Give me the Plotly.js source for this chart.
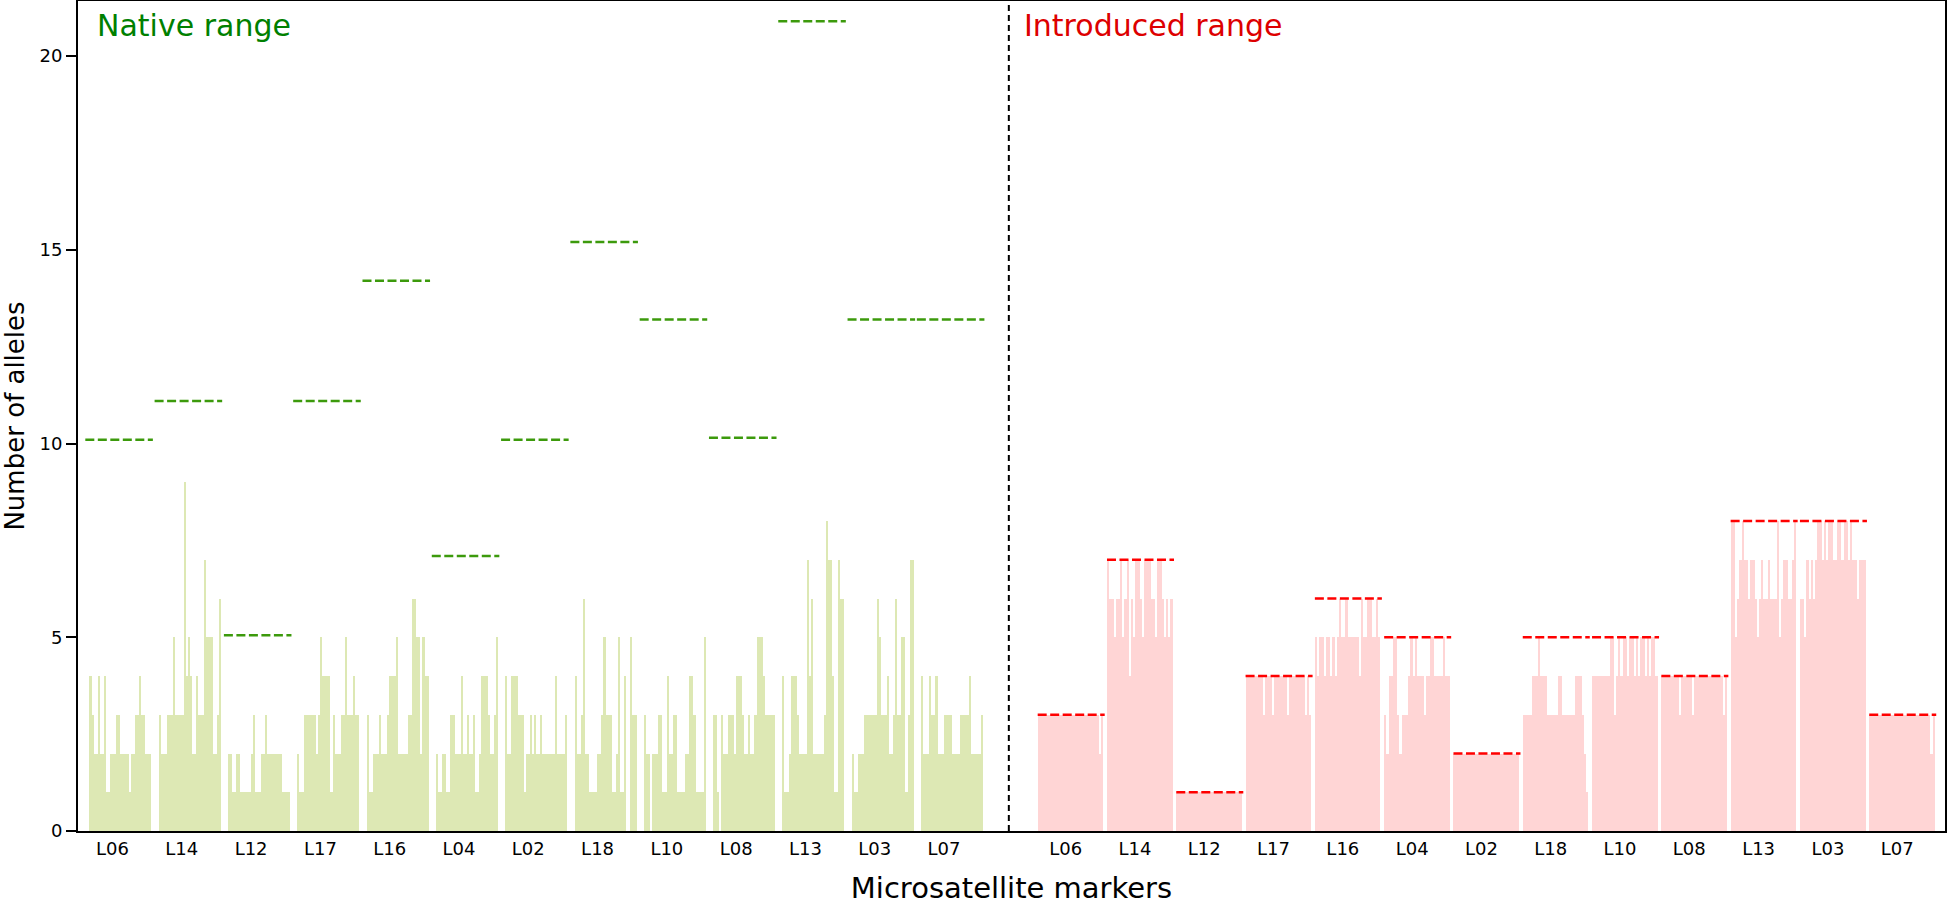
<!DOCTYPE html>
<html><head><meta charset="utf-8">
<script src="https://cdn.plot.ly/plotly-3.0.1.min.js"></script>
<style>html,body{margin:0;padding:0;background:#fff}#chart{width:1947px;height:905px}</style>
</head><body><div id="chart"></div>
<script>
// ---- data ----
const markers = ["L06","L14","L12","L17","L16","L04","L02","L18","L10","L08","L13","L03","L07"];

// Native range: number of alleles per sample, 30 samples per marker
const nativeL06 = [4,3,2,2,4,2,2,4,1,1,2,2,2,3,3,2,2,2,2,1,2,2,3,3,4,3,3,2,2,2];
const nativeL14 = [3,2,2,2,3,3,3,5,3,3,3,3,9,4,5,4,2,2,4,3,3,3,7,5,5,5,2,2,3,6];
const nativeL12 = [2,2,1,1,2,2,1,1,1,1,1,2,3,1,1,1,2,2,3,2,2,2,2,2,2,2,1,1,1,1];
const nativeL17 = [2,1,1,3,3,3,3,3,3,2,3,5,4,4,4,4,1,3,2,2,2,3,3,5,3,3,3,4,3,3];
const nativeL16 = [3,1,1,2,2,2,3,2,2,2,3,4,4,4,5,2,2,2,2,2,3,3,6,6,5,5,2,5,4,4];
const nativeL04 = [2,1,1,2,2,1,1,3,3,2,2,2,4,2,2,3,2,2,3,1,1,2,4,4,4,3,2,2,3,5];
const nativeL02 = [4,2,2,4,4,4,3,3,3,1,2,2,3,2,3,2,2,3,2,2,2,2,2,2,4,2,2,2,2,3];
const nativeL18 = [4,2,2,3,6,2,2,1,1,1,1,2,2,3,5,3,3,3,1,1,2,5,1,1,4,0,0,5,3,3];
const nativeL10 = [3,2,2,0,2,2,2,3,3,1,1,4,2,2,3,3,1,1,1,1,2,2,4,4,3,1,1,1,1,5];
const nativeL08 = [3,3,1,0,3,2,2,3,3,3,2,4,4,4,3,2,2,3,2,2,3,5,5,5,4,3,3,3,3,3];
const nativeL13 = [4,1,1,2,4,4,4,3,2,2,2,2,7,4,6,2,2,2,2,2,3,8,7,7,4,1,1,7,6,6];
const nativeL03 = [2,1,1,2,2,2,3,3,3,3,3,3,6,5,3,3,3,4,2,2,3,6,3,3,5,5,1,3,7,7];
const nativeL07 = [4,2,2,2,4,3,3,4,2,2,2,3,3,3,3,2,2,2,2,3,3,3,3,4,2,2,2,2,2,3];

// Introduced range: number of alleles per sample, 30 samples per marker
const introL06 = [3,3,3,3,3,3,3,3,3,3,3,3,3,3,3,3,3,3,3,3,3,3,3,3,3,3,3,3,2,3];
const introL14 = [7,6,6,5,6,6,7,5,6,7,4,6,5,7,7,6,5,7,7,7,6,6,5,7,7,6,5,6,5,6];
const introL12 = [1,1,1,1,1,1,1,1,1,1,1,1,1,1,1,1,1,1,1,1,1,1,1,1,1,1,1,1,1,1];
const introL17 = [4,4,4,4,4,4,4,4,3,4,4,4,3,4,4,4,4,4,4,3,4,4,4,4,4,4,4,3,4,3];
const introL16 = [5,4,5,5,4,5,5,4,5,4,5,6,5,5,6,5,5,5,5,5,4,6,5,5,6,6,5,5,6,5];
const introL04 = [3,2,4,4,5,5,3,2,3,3,3,4,5,4,5,4,4,4,3,4,4,5,5,4,4,4,4,5,4,4];
const introL02 = [2,2,2,2,2,2,2,2,2,2,2,2,2,2,2,2,2,2,2,2,2,2,2,2,2,2,2,2,2,2];
const introL18 = [3,3,3,3,4,4,4,5,4,4,4,3,3,3,3,3,4,4,3,3,3,3,3,3,4,4,4,3,2,1];
const introL10 = [4,4,4,4,4,4,4,4,5,5,3,4,5,4,5,5,4,5,5,4,5,4,5,5,4,5,4,5,5,4];
const introL08 = [4,4,4,4,4,4,4,4,3,4,4,4,4,4,3,4,4,4,4,4,4,4,4,4,4,4,4,4,3,4];
const introL13 = [8,8,5,6,7,8,7,7,6,7,7,6,5,6,7,6,6,7,6,6,6,8,5,6,7,7,6,6,7,8];
const introL03 = [6,6,5,7,6,7,6,7,8,8,7,8,7,8,8,7,7,8,8,7,8,8,7,8,7,7,6,7,7,7];
const introL07 = [3,3,3,3,3,3,3,3,3,3,3,3,3,3,3,3,3,3,3,3,3,3,3,3,3,3,3,3,2,3];

// Total number of alleles per marker (dashed lines)
const nativeMax = [10.1,11.1,5.05,11.1,14.2,7.1,10.1,15.2,13.2,10.15,20.9,13.2,13.2];
const introducedMax = [3,7,1,4,6,5,2,5,5,4,8,8,3];

// ---- layout geometry ----
const nativeSets = [nativeL06,nativeL14,nativeL12,nativeL17,nativeL16,nativeL04,nativeL02,nativeL18,nativeL10,nativeL08,nativeL13,nativeL03,nativeL07];
const introSets  = [introL06,introL14,introL12,introL17,introL16,introL04,introL02,introL18,introL10,introL08,introL13,introL03,introL07];
const NAT_OFF = 0, INT_OFF = 13.71;
const NAT_W = 0.895, INT_W = 0.947;

function barsOf(sets, off, gw) {
  const x = [], y = [];
  sets.forEach((vals, i) => {
    const n = vals.length;
    vals.forEach((v, k) => { x.push(off + i + ((k + 0.5) / n - 0.5) * gw); y.push(v); });
  });
  return {x, y, w: gw / sets[0].length};
}
function maxLines(maxes, off, gw, padL, padR) {
  const x = [], y = [];
  maxes.forEach((m, i) => { x.push(off + i - gw/2 - padL, off + i + gw/2 + padR, null); y.push(m, m, null); });
  return {x, y};
}

const nb = barsOf(nativeSets, NAT_OFF, NAT_W);
const ib = barsOf(introSets, INT_OFF, INT_W);
const nl = maxLines(nativeMax, NAT_OFF, NAT_W, 0.06, 0.02);
const il = maxLines(introducedMax, INT_OFF, INT_W, 0.0, 0.02);

const traces = [
  {type:'bar', x:nb.x, y:nb.y, width:nb.w, marker:{color:'#dde8b4', line:{width:0}}, name:'Native range', hoverinfo:'y'},
  {type:'bar', x:ib.x, y:ib.y, width:ib.w, marker:{color:'#ffd5d5', line:{width:0}}, name:'Introduced range', hoverinfo:'y'},
  {type:'scatter', mode:'lines', x:nl.x, y:nl.y, line:{color:'#3c9a0c', width:2.5, dash:'9px,3.5px'}, hoverinfo:'y', connectgaps:false},
  {type:'scatter', mode:'lines', x:il.x, y:il.y, line:{color:'#ff0000', width:2.5, dash:'9px,3.5px'}, hoverinfo:'y', connectgaps:false}
];

const tickvals = [], ticktext = [];
markers.forEach((m, i) => { tickvals.push(NAT_OFF + i - 0.115); ticktext.push(m); });
markers.forEach((m, i) => { tickvals.push(INT_OFF + i - 0.07); ticktext.push(m); });

const layout = {
  width:1947, height:905,
  margin:{l:78, r:2, t:1, b:74},
  paper_bgcolor:'#ffffff', plot_bgcolor:'#ffffff',
  font:{family:'DejaVu Sans, Verdana, sans-serif', color:'#000'},
  showlegend:false,
  bargap:0,
  xaxis:{
    range:[-0.613, 26.33], showgrid:false, zeroline:false,
    showline:true, linecolor:'#000', linewidth:2, mirror:true,
    ticks:'', tickvals:tickvals, ticktext:ticktext, tickfont:{size:18, color:'#000'},
    title:{text:'Microsatellite markers', font:{size:29, color:'#000'}, standoff:26}
  },
  yaxis:{
    range:[0, 21.42], showgrid:false, zeroline:false,
    showline:true, linecolor:'#000', linewidth:2, mirror:true,
    ticks:'outside', ticklen:10, tickwidth:2, tickcolor:'#000',
    tickvals:[0,5,10,15,20], tickfont:{size:18, color:'#000'},
    title:{text:'Number of alleles', font:{size:26, color:'#000'}, standoff:16}
  },
  shapes:[{type:'line', xref:'x', yref:'paper', x0:12.82, x1:12.82, y0:0, y1:1,
           line:{color:'#000', width:2, dash:'6px,4px'}}],
  annotations:[
    {xref:'paper', yref:'paper', x:0.009, y:0.970, xanchor:'left', yanchor:'middle', showarrow:false,
     text:'Native range', font:{size:30, color:'#008000'}},
    {xref:'paper', yref:'paper', x:0.5055, y:0.970, xanchor:'left', yanchor:'middle', showarrow:false,
     text:'Introduced range', font:{size:30, color:'#dd0000'}}
  ]
};

Plotly.newPlot('chart', traces, layout, {displayModeBar:false, staticPlot:true});
</script>
</body></html>
